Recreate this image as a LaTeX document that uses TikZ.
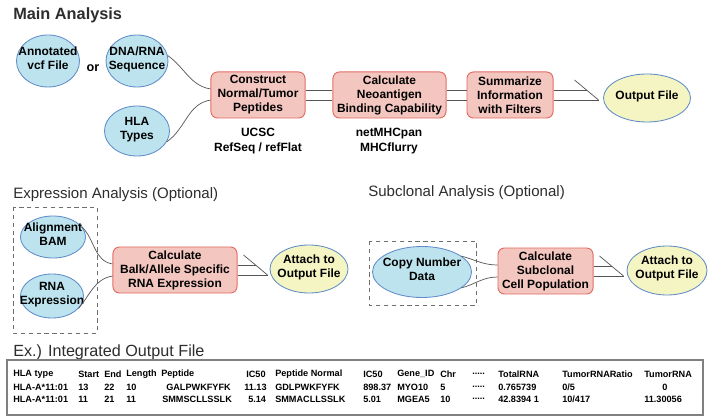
\documentclass[tikz,border=0pt]{standalone}
\usepackage{fontspec}
\setmainfont{Liberation Sans}
\usetikzlibrary{shapes.geometric,calc}

\definecolor{ellfill}{RGB}{189,228,238}
\definecolor{ellline}{RGB}{95,140,200}
\definecolor{outfill}{RGB}{245,245,195}
\definecolor{boxfill}{RGB}{244,198,192}
\definecolor{boxline}{RGB}{226,110,100}
\definecolor{linkgray}{RGB}{85,85,85}
\definecolor{dashgray}{RGB}{110,110,110}
\definecolor{titlegray}{RGB}{45,45,45}

% text of an ellipse, kept out of the shape size
\newcommand{\etext}[1]{\raisebox{-2pt}{\makebox[0pt]{\smash{\begin{tabular}{@{}c@{}}#1\end{tabular}}}}}
\newcommand{\skipcols}{.....}

\tikzset{
  nodefont/.style={font=\fontsize{8.5}{10}\selectfont\bfseries},
  inp/.style={ellipse, draw=ellline, fill=ellfill, line width=0.6pt, inner sep=0pt, nodefont},
  outp/.style={inp, fill=outfill},
  proc/.style={rectangle, rounded corners=1.6mm, draw=boxline, fill=boxfill, line width=0.7pt, inner sep=1pt, align=center, nodefont},
  note/.style={align=center, inner sep=0pt, font=\fontsize{8.5}{10.8}\selectfont\bfseries},
  title/.style={anchor=west, inner sep=0pt, text=titlegray, font=\fontsize{10.7}{12}\selectfont},
  link/.style={draw=linkgray, line width=0.5pt},
  dashbox/.style={draw=dashgray, line width=0.6pt, dash pattern=on 3pt off 2.6pt},
  tablebox/.style={draw=gray, line width=0.8pt},
  cell/.style={anchor=west, inner sep=0pt, font=\fontsize{6.5}{7}\selectfont\bfseries}
}

\begin{document}
\begin{tikzpicture}[x=0.025cm,y=-0.025cm]
\useasboundingbox (0,0) rectangle (708,419);

% main analysis
\node[title, font=\fontsize{11.6}{13}\selectfont\bfseries] (maintitle) at (13,15) {Main Analysis};
\node[inp, minimum width=15.75mm, minimum height=13mm] (vcf) at (48,61) {\etext{Annotated\\vcf File}};
\node[inp, minimum width=15.5mm, minimum height=13mm] (seq) at (137,61) {\etext{DNA/RNA\\Sequence}};
\node[font=\fontsize{9}{10}\selectfont\bfseries, inner sep=0pt] (or) at (93,68) {or};
\node[inp, minimum width=16.25mm, minimum height=12.5mm] (hla) at (137,131) {\etext{HLA\\Types}};
\node[proc, minimum width=23.5mm, minimum height=11.5mm] (construct) at (258,95) {Construct\\Normal/Tumor\\Peptides};
\node[proc, minimum width=28.25mm, minimum height=11.5mm] (neo) at (389.5,95) {Calculate\\Neoantigen\\Binding Capability};
\node[proc, minimum width=21.5mm, minimum height=11.5mm] (summ) at (510,95) {Summarize\\Information\\with Filters};
\node[outp, minimum width=21.75mm, minimum height=12mm] (out) at (647,98) {\etext{Output File}};
\node[note] (ucsc) at (258,141) {UCSC\\RefSeq / refFlat};
\node[note] (mhc) at (389,141) {netMHCpan\\MHCflurry};

\draw[link] (seq.10) to[out=-35,in=170] ($(construct.west)+(0,-6)$);
\draw[link] (hla.-20) to[out=35,in=190] ($(construct.west)+(0,5)$);
\draw[link] ($(construct.east)+(0,-5)$) -- ($(neo.west)+(0,-5)$);
\draw[link] ($(construct.east)+(0,5)$) -- ($(neo.west)+(0,5)$);
\draw[link] ($(neo.east)+(0,-5)$) -- ($(summ.west)+(0,-5)$);
\draw[link] ($(neo.east)+(0,5)$) -- ($(summ.west)+(0,5)$);
\coordinate (outtip) at ($(summ.east)+(45,5)$);
\draw[link] ($(summ.east)+(0,5)$) -- (outtip);
\draw[link] ($(summ.east)+(0,-5)$) -- ++(33,0);
\draw[link] ($(outtip)+(-24,-20)$) -- (outtip);

% expression analysis
\node[title] (exptitle) at (13,195) {Expression Analysis (Optional)};
\draw[dashbox] (13,207) rectangle (97,333);
\node[inp, minimum width=16.25mm, minimum height=10.5mm] (bam) at (53,237) {\etext{Alignment\\BAM}};
\node[inp, minimum width=15.75mm, minimum height=11mm] (rnaexp) at (52,296) {\etext{RNA\\Expression}};
\node[proc, minimum width=31mm, minimum height=11.5mm] (balk) at (175,270) {Calculate\\Balk/Allele Specific\\RNA Expression};
\node[outp, minimum width=19.5mm, minimum height=12mm] (attexp) at (309,269) {\etext{Attach to\\Output File}};

\draw[link] (bam.20) to[out=-45,in=170] ($(balk.west)+(0,-6)$);
\draw[link] (rnaexp.-25) to[out=50,in=190] ($(balk.west)+(0,6)$);
\coordinate (exptip) at ($(balk.east)+(30,5)$);
\draw[link] ($(balk.east)+(0,5)$) -- (exptip);
\draw[link] ($(balk.east)+(0,-5)$) -- ++(18,0);
\draw[link] ($(exptip)+(-24,-20)$) -- (exptip);

% subclonal analysis
\node[title] (subtitle) at (368,193) {Subclonal Analysis (Optional)};
\draw[dashbox] (369,241) rectangle (476,305);
\node[inp, minimum width=24.75mm, minimum height=12.75mm] (cnv) at (422,272) {\etext{Copy Number\\Data}};
\node[proc, minimum width=23.75mm, minimum height=11.5mm] (subcl) at (545.5,271) {Calculate\\Subclonal\\Cell Population};
\node[outp, minimum width=20mm, minimum height=12.25mm] (attsub) at (667,270.5) {\etext{Attach to\\Output File}};

\draw[link] (cnv.22) to[out=-15,in=180] ($(subcl.west)+(0,-6)$);
\draw[link] (cnv.-22) to[out=15,in=180] ($(subcl.west)+(0,6)$);
\coordinate (subtip) at ($(subcl.east)+(30,5)$);
\draw[link] ($(subcl.east)+(0,5)$) -- (subtip);
\draw[link] ($(subcl.east)+(0,-5)$) -- ++(18,0);
\draw[link] ($(subtip)+(-24,-20)$) -- (subtip);

% integrated output file
\node[title, font=\fontsize{11.5}{13}\selectfont] (extitle) at (13,352) {Ex.) Integrated Output File};
\draw[tablebox] (7,360) rectangle (703,415);
\foreach \x/\t [count=\i] in {13/HLA type, 78/Start, 104/End, 126/Length, 161/Peptide, 246/IC50, 275/Peptide Normal, 363/IC50, 397/Gene\_ID, 440/Chr, 472/\skipcols, 498/TotalRNA, 562/TumorRNARatio, 644/TumorRNA}
  \node[cell] (hd\i) at (\x,374) {\t};
\foreach \x/\t [count=\i] in {13/HLA-A*11:01, 78/13, 104/22, 126/10, 166/GALPWKFYFK, 244/11.13, 275/GDLPWKFYFK, 363/898.37, 397/MYO10, 440/5, 472/\skipcols, 498/0.765739, 562/{0/5}, 662/0}
  \node[cell] (ra\i) at (\x,387) {\t};
\foreach \x/\t [count=\i] in {13/HLA-A*11:01, 78/11, 104/21, 126/11, 162/SMMSCLLSSLK, 248/5.14, 275/SMMACLLSSLK, 363/5.01, 397/MGEA5, 440/10, 472/\skipcols, 498/42.8394 1, 562/{10/417}, 644/11.30056}
  \node[cell] (rb\i) at (\x,399) {\t};
\end{tikzpicture}
\end{document}
